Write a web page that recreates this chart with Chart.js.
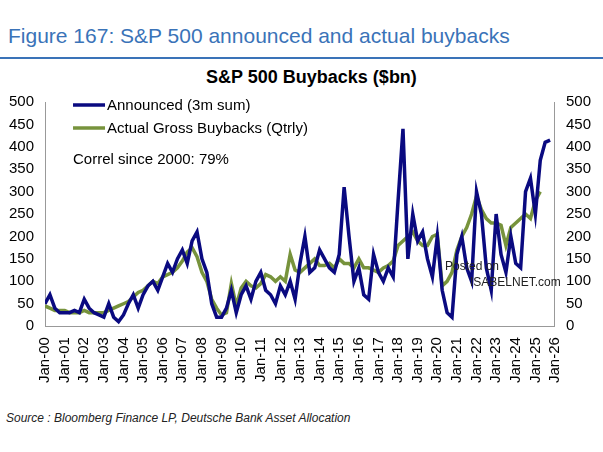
<!DOCTYPE html>
<html><head><meta charset="utf-8">
<script src="https://cdn.jsdelivr.net/npm/chart.js@4"></script>
<style>
body{margin:0;background:#fff;font-family:"Liberation Sans",Arial,sans-serif;width:603px;height:452px;overflow:hidden;position:relative}
#hdr{position:absolute;left:8px;top:24px;font-size:21px;color:#3a73b8}
#rule{position:absolute;left:0;top:57px;width:603px;border-top:2px solid #3a73b8}
#ttl{position:absolute;left:0;width:603px;top:67px;text-align:center;font-size:18px;font-weight:bold;padding-left:20px;box-sizing:border-box}
#src{position:absolute;left:6px;top:411px;font-size:12px;font-style:italic;color:#222}
#box{position:absolute;left:0;top:90px;width:600px;height:296px}
#wm{position:absolute;left:445px;top:258px;font-size:12px;color:#222;line-height:16px}
</style></head><body>
<div id="hdr">Figure 167: S&amp;P 500 announced and actual buybacks</div>
<div id="rule"></div>
<div id="ttl">S&amp;P 500 Buybacks ($bn)</div>
<div id="box"><canvas id="c"></canvas></div>
<div id="wm">Posted on<br><span style="margin-left:25px">ISABELNET.com</span></div>
<div id="src">Source : Bloomberg Finance LP, Deutsche Bank Asset Allocation</div>
<script>
// quarterly values starting Q1 2000
var announced=[50,70,40,30, 30,30,35,30, 60,40,30,25, 20,50,20,10, 25,50,70,40,
 70,90,100,80, 110,140,120,150, 170,140,190,210, 150,120,50,20, 20,40,80,30,
 70,90,60,100, 120,80,70,50, 90,70,100,60, 140,200,120,130, 170,150,130,120,
 160,310,200,100, 130,70,60,160, 120,100,130,110, 280,440,150,250, 190,210,150,110,
 200,80,30,20, 160,200,130,100, 300,250,130,80, 250,160,120,200, 140,130,300,330,
 250,370,410,415];
var actual=[45,40,35,35, 35,30,30,30, 35,30,30,30, 30,35,40,45, 50,55,65,75,
 80,90,100,95, 110,115,120,130, 145,165,175,155, 120,100,60,40, 25,30,95,45,
 85,100,90,85, 95,115,110,100, 110,100,160,125, 120,130,140,150, 135,135,140,130,
 150,140,140,130, 150,130,130,125, 120,130,135,145, 180,190,200,210, 190,180,180,200,
 205,90,100,120, 170,200,220,250, 290,260,240,230, 230,225,180,220, 230,240,250,240,
 280,300];
var seriesNames=['Announced (3m sum)','Actual Gross Buybacks (Qtrly)'];
var seriesColors=['#0a0a80','#77933c'];
var yearLabels=[];
for(var y=0;y<=26;y++) yearLabels.push('Jan-'+(y<10?'0':'')+y);
function pts(a){return a.map(function(v,i){return {x:i/4,y:v}})}
new Chart(document.getElementById('c'),{
  type:'line',
  data:{datasets:[
    {label:seriesNames[0],data:pts(announced),borderColor:seriesColors[0],borderWidth:3.5,pointRadius:0,tension:0},
    {label:seriesNames[1],data:pts(actual),borderColor:seriesColors[1],borderWidth:3.5,pointRadius:0,tension:0}
  ]},
  options:{responsive:true,maintainAspectRatio:false,animation:false,
    layout:{padding:{left:6,right:6,top:8}},
    plugins:{legend:{display:false},tooltip:{enabled:false}},
    scales:{
      x:{type:'linear',min:0,max:26,grid:{display:false},border:{color:'#999'},
        ticks:{stepSize:1,autoSkip:false,maxRotation:90,minRotation:90,color:'#000',font:{size:15,family:'Liberation Sans'},
          callback:function(v){return yearLabels[v]}}},
      y:{min:0,max:500,grid:{display:false},border:{color:'#999'},ticks:{stepSize:50,color:'#000',font:{size:15,family:'Liberation Sans'}}},
      y2:{position:'right',min:0,max:500,grid:{display:false},border:{color:'#999'},ticks:{stepSize:50,color:'#000',font:{size:15,family:'Liberation Sans'}}}
    }
  },
  plugins:[{id:'note',afterDraw:function(ch){var c=ch.ctx,a=ch.chartArea;c.save();c.font='15px "Liberation Sans"';c.fillStyle='#000';
    for(var i=0;i<2;i++){var yy=a.top+3+i*23;c.strokeStyle=seriesColors[i];c.lineWidth=3.5;c.beginPath();c.moveTo(a.left+28,yy);c.lineTo(a.left+60,yy);c.stroke();
      c.fillText(seriesNames[i],a.left+62,yy+5);}
    c.fillText('Correl since 2000: 79%',a.left+28,a.top+62);c.restore();}}]
});
</script>
</body></html>
